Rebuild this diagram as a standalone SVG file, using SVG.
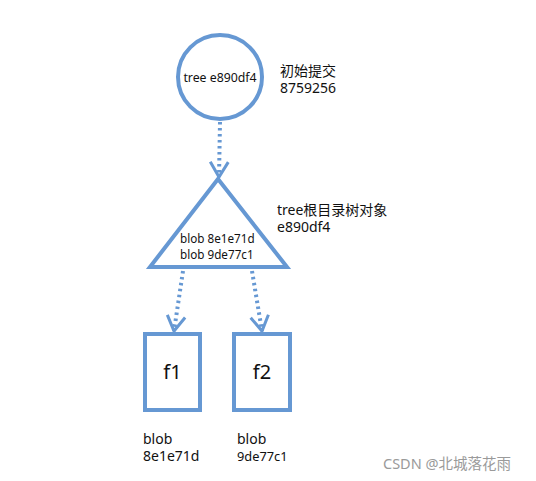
<svg xmlns="http://www.w3.org/2000/svg" width="536" height="481" viewBox="0 0 536 481">
<style>
.shape{fill:#fff;stroke:#6698d3;stroke-width:4}
.conn{fill:none;stroke:#6698d3;stroke-width:4;stroke-dasharray:2.5 3.5}
.t{font-family:"Noto Sans","Noto Sans CJK SC",sans-serif;fill:#111}
.lab{font-size:14px}
.small{font-size:11.7px}
</style>
<defs>
<marker id="ah" markerUnits="userSpaceOnUse" markerWidth="24" markerHeight="24" viewBox="-20 -12 24 24" refX="0" refY="0" orient="auto">
<path d="M-15,-9 L0,0 L-15,9" fill="none" stroke="#6698d3" stroke-width="3"/>
</marker>
</defs>
<rect width="536" height="481" fill="#fff"/>
<g id="connectors">
<line class="conn" x1="220" y1="122" x2="219" y2="177" marker-end="url(#ah)"/>
<line class="conn" x1="183" y1="271" x2="174" y2="331" marker-end="url(#ah)"/>
<line class="conn" x1="252" y1="271" x2="262" y2="331" marker-end="url(#ah)"/>
</g>
<g id="commit">
<circle class="shape" cx="220" cy="77" r="42"/>
<text class="t" x="220" y="82" font-size="12.3" text-anchor="middle">tree e890df4</text>
<text class="t lab" x="280" y="76">初始提交</text>
<text class="t lab" x="280" y="93">8759256</text>
</g>
<g id="tree">
<polygon class="shape" points="218,179 150,267 287,267"/>
<text class="t small" x="180" y="243">blob 8e1e71d</text>
<text class="t small" x="180" y="259">blob 9de77c1</text>
<text class="t lab" x="277" y="215">tree根目录树对象</text>
<text class="t lab" x="277" y="232">e890df4</text>
</g>
<g id="f1">
<rect class="shape" x="145" y="334" width="55" height="76"/>
<text class="t" x="172.5" y="379" font-size="20" text-anchor="middle">f1</text>
<text class="t lab" x="143" y="444">blob</text>
<text class="t lab" x="143" y="461">8e1e71d</text>
</g>
<g id="f2">
<rect class="shape" x="234" y="334" width="56" height="76"/>
<text class="t" x="262" y="379" font-size="20" text-anchor="middle">f2</text>
<text class="t lab" x="237" y="444">blob</text>
<text class="t" x="237" y="461" font-size="12.8">9de77c1</text>
</g>
<text x="383" y="469" font-family="'Noto Sans','Noto Sans CJK SC',sans-serif" font-size="14.5" fill="#9a9a9a">CSDN @北城落花雨</text>
</svg>
